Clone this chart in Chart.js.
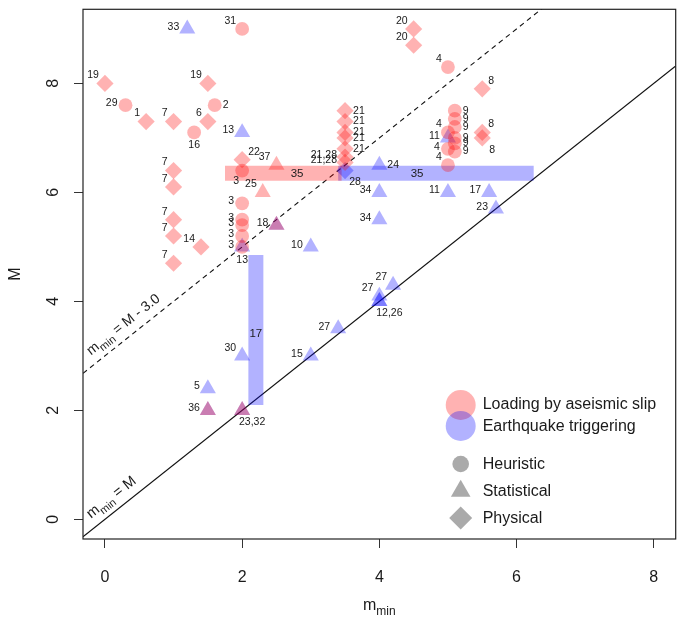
<!DOCTYPE html>
<html>
<head>
<meta charset="utf-8">
<script src="https://cdn.jsdelivr.net/npm/chart.js@4.4.1/dist/chart.umd.min.js"></script>
<style>
  html, body { margin: 0; padding: 0; background: #fff; }
  canvas { display: block; }
</style>
</head>
<body>
<canvas id="chart" width="685" height="626"></canvas>
<script>
// axes
const xTicks = [0, 2, 4, 6, 8];
const yTicks = [0, 2, 4, 6, 8];
const xLim = [-0.32, 8.32];
const yLim = [-0.36, 9.36];

// Loading by aseismic slip - heuristic (circles)
const aseisHeurX = [2.0, 0.3, 1.6, 1.3, 2.0, 2.0, 2.0, 2.0, 2.0, 2.0, 5.0, 5.1, 5.1, 5.1, 5.1, 5.1, 5.1, 5.0, 5.0, 5.0];
const aseisHeurM = [9.0, 7.6, 7.6, 7.1, 6.4, 5.8, 5.5, 5.4, 5.2, 5.0, 8.3, 7.5, 7.35, 7.2, 7.0, 6.9, 6.75, 7.1, 6.8, 6.5];
const aseisHeurRef = ['31', '29', '2', '16', '3', '3', '3', '3', '3', '3', '4', '9', '9', '9', '9', '9', '9', '4', '4', '4'];

// Loading by aseismic slip - statistical (triangles)
const aseisStatX = [2.5, 2.3, 2.5, 1.5, 2.0];
const aseisStatM = [6.5, 6.0, 5.4, 2.0, 2.0];
const aseisStatRef = ['37', '25', '18', '36', '23,32'];

// Loading by aseismic slip - physical (diamonds)
const aseisPhysX = [0.0, 0.6, 1.0, 1.5, 1.5, 2.0, 1.0, 1.0, 1.0, 1.0, 1.4, 1.0, 3.5, 3.5, 3.5, 3.5, 3.5, 3.5, 3.5, 4.5, 4.5, 5.5, 5.5, 5.5];
const aseisPhysM = [8.0, 7.3, 7.3, 8.0, 7.3, 6.6, 6.4, 6.1, 5.5, 5.2, 5.0, 4.7, 7.5, 7.3, 7.1, 7.0, 6.8, 6.65, 6.55, 9.0, 8.7, 7.9, 7.1, 7.0];
const aseisPhysRef = ['19', '1', '7', '19', '6', '22', '7', '7', '7', '7', '14', '7', '21', '21', '21', '21', '21', '21,28', '21,28', '20', '20', '8', '8', '8'];

// Earthquake triggering - statistical (triangles)
const trigStatX = [1.2, 2.0, 4.0, 4.0, 4.0, 5.0, 5.0, 5.6, 5.7, 2.5, 2.0, 3.0, 4.2, 4.0, 4.0, 4.0, 3.4, 2.0, 3.0, 1.5, 1.5, 2.0];
const trigStatM = [9.0, 7.1, 6.5, 6.0, 5.5, 7.0, 6.0, 6.0, 5.7, 5.4, 5.0, 5.0, 4.3, 4.1, 4.0, 4.0, 3.5, 3.0, 3.0, 2.4, 2.0, 2.0];
const trigStatRef = ['33', '13', '24', '34', '34', '11', '11', '17', '23', '', '13', '10', '27', '27', '12,26', '', '27', '30', '15', '5', '', ''];

// Earthquake triggering - physical (diamonds)
const trigPhysX = [3.5];
const trigPhysM = [6.4];
const trigPhysRef = ['28'];

// ranges (study, m_min from-to, M from-to)
const rangeRef = ['35', '35', '17'];
const rangeX0 = [1.75, 3.4, 2.2];
const rangeX1 = [3.45, 6.25, 2.2];
const rangeM0 = [6.35, 6.35, 2.1];
const rangeM1 = [6.35, 6.35, 4.85];
const rangeLabelX = [2.8, 4.55, 2.2];
const rangeLabelM = [6.35, 6.35, 3.4];

// where each number sits around its marker
const aseisHeurSide = ['tl', 'l', 'r', 'b', 'bl', 'l', 'l', 'l', 'l', 'l', 'tl', 'r', 'r', 'r', 'r', 'r', 'r', 'tl', 'l', 'tl'];
const aseisStatSide = ['tl', 'tl', 'l', 'l', 'br'];
const aseisPhysSide = ['tl', 'tl', 'tl', 'tl', 'tl', 'tr', 'tl', 'tl', 'tl', 'tl', 'tl', 'tl', 'r', 'r', 'r', 'r', 'r', 'l', 'l', 'tl', 'tl', 'tr', 'tr', 'br'];
const trigStatSide = ['l', 'l', 'r', 'l', 'l', 'l', 'l', 'l', 'l', 'l', 'b', 'l', 'tl', 'tl', 'br', 'l', 'l', 'tl', 'l', 'l', 'l', 'l'];
const trigPhysSide = ['br'];

const pink = 'rgba(255, 0, 0, 0.3)';
const blue = 'rgba(0, 0, 255, 0.3)';
const FONT = "'Liberation Sans', Arial, Helvetica, sans-serif";
const ink = '#1a1a1a';

function pts(xs, ms) {
    return xs.map((x, i) => ({ x: x, y: ms[i] }));
}

function markers(xs, ms, refs, sides, color, style, radius) {
    return {
        type: 'scatter',
        data: pts(xs, ms),
        refs: refs,
        sides: sides,
        pointStyle: style,
        pointRadius: radius,
        pointHoverRadius: radius,
        backgroundColor: color,
        borderWidth: 0,
        order: 1
    };
}

const datasets = [
    markers(aseisHeurX, aseisHeurM, aseisHeurRef, aseisHeurSide, pink, 'circle', 6.9),
    markers(aseisStatX, aseisStatM, aseisStatRef, aseisStatSide, pink, 'triangle', 9.3),
    markers(aseisPhysX, aseisPhysM, aseisPhysRef, aseisPhysSide, pink, 'rectRot', 8.6),
    markers(trigStatX, trigStatM, trigStatRef, trigStatSide, blue, 'triangle', 9.3),
    markers(trigPhysX, trigPhysM, trigPhysRef, trigPhysSide, blue, 'rectRot', 8.6)
];

// range bars
rangeRef.forEach((r, i) => {
    datasets.push({
        type: 'line',
        data: [{ x: rangeX0[i], y: rangeM0[i] }, { x: rangeX1[i], y: rangeM1[i] }],
        borderColor: i === 0 ? pink : blue,
        borderWidth: 15,
        borderCapStyle: 'butt',
        pointRadius: 0,
        fill: false,
        order: 5
    });
});

// reference lines m_min = M and m_min = M - 3
datasets.push({
    type: 'line',
    data: [{ x: xLim[0], y: xLim[0] }, { x: xLim[1], y: xLim[1] }],
    borderColor: '#111', borderWidth: 1.1, pointRadius: 0, fill: false, order: 8
});
datasets.push({
    type: 'line',
    data: [{ x: xLim[0], y: xLim[0] + 3 }, { x: xLim[1], y: xLim[1] + 3 }],
    borderColor: '#111', borderWidth: 1.1, borderDash: [5, 4], pointRadius: 0, fill: false, order: 8
});

const sideOffset = {
    l: [-8, -2, 'right'],
    r: [8, 0, 'left'],
    tl: [-6, -8, 'right'],
    tr: [6, -8, 'left'],
    b: [0, 13, 'center'],
    bl: [-6, 11, 'center'],
    br: [10, 12, 'center']
};

function drawSubText(ctx, x, y, parts, size, align) {
    // parts: main "m", subscript "min", rest
    ctx.font = size + 'px ' + FONT;
    const w1 = ctx.measureText(parts[0]).width;
    const w3 = ctx.measureText(parts[2]).width;
    ctx.font = Math.round(size * 0.75) + 'px ' + FONT;
    const w2 = ctx.measureText(parts[1]).width;
    let sx = x;
    if (align === 'center') sx = x - (w1 + w2 + w3) / 2;
    ctx.textAlign = 'left';
    ctx.textBaseline = 'alphabetic';
    ctx.font = size + 'px ' + FONT;
    ctx.fillText(parts[0], sx, y);
    ctx.font = Math.round(size * 0.75) + 'px ' + FONT;
    ctx.fillText(parts[1], sx + w1, y + size * 0.3);
    ctx.font = size + 'px ' + FONT;
    ctx.fillText(parts[2], sx + w1 + w2, y);
}

const annotations = {
    id: 'annotations',
    afterDatasetsDraw(chart) {
        const ctx = chart.ctx;
        const xs = chart.scales.x, ys = chart.scales.y;
        const area = chart.chartArea;

        // study numbers next to markers
        ctx.save();
        ctx.fillStyle = ink;
        ctx.font = '10.5px ' + FONT;
        ctx.textBaseline = 'middle';
        chart.data.datasets.forEach((ds, di) => {
            if (!ds.refs) return;
            const meta = chart.getDatasetMeta(di);
            meta.data.forEach((el, i) => {
                const txt = ds.refs[i];
                if (!txt) return;
                const o = sideOffset[ds.sides[i]] || sideOffset.l;
                ctx.textAlign = o[2];
                ctx.fillText(txt, el.x + o[0], el.y + o[1]);
            });
        });
        // range labels
        ctx.font = '11.5px ' + FONT;
        ctx.textAlign = 'center';
        rangeRef.forEach((r, i) => {
            ctx.fillText(r, xs.getPixelForValue(rangeLabelX[i]), ys.getPixelForValue(rangeLabelM[i]));
        });
        ctx.restore();

        // line labels, rotated along the lines
        ctx.save();
        ctx.beginPath();
        ctx.rect(area.left, area.top, area.right - area.left, area.bottom - area.top);
        ctx.clip();
        ctx.fillStyle = ink;
        [[3, ['m', 'min', ' = M - 3.0'], 14], [0, ['m', 'min', ' = M'], 14.5]].forEach(([off, parts, size]) => {
            const x0 = -0.12;
            const px0 = xs.getPixelForValue(x0), py0 = ys.getPixelForValue(x0 + off);
            const px1 = xs.getPixelForValue(x0 + 1), py1 = ys.getPixelForValue(x0 + 1 + off);
            const ang = Math.atan2(py1 - py0, px1 - px0);
            ctx.save();
            ctx.translate(px0, py0);
            ctx.rotate(ang);
            drawSubText(ctx, 0, -9, parts, size, 'left');
            ctx.restore();
        });
        ctx.restore();
    },
    afterDraw(chart) {
        const ctx = chart.ctx;
        const area = chart.chartArea;
        const ys = chart.scales.y;

        // frame
        ctx.save();
        ctx.strokeStyle = '#222';
        ctx.lineWidth = 1.2;
        ctx.strokeRect(area.left, area.top, area.right - area.left, area.bottom - area.top);

        // rotated y tick labels
        ctx.fillStyle = ink;
        ctx.font = '16px ' + FONT;
        ctx.textAlign = 'center';
        ctx.textBaseline = 'middle';
        yTicks.forEach(v => {
            ctx.save();
            ctx.translate(area.left - 29, ys.getPixelForValue(v));
            ctx.rotate(-Math.PI / 2);
            ctx.fillText(String(v), 0, 0);
            ctx.restore();
        });
        // axis titles
        ctx.save();
        ctx.translate(area.left - 67, (area.top + area.bottom) / 2);
        ctx.rotate(-Math.PI / 2);
        ctx.fillText('M', 0, 0);
        ctx.restore();
        drawSubText(ctx, (area.left + area.right) / 2, 610, ['m', 'min', ''], 16, 'center');

        // legend
        const lx = area.right - 215;
        ctx.fillStyle = pink;
        ctx.beginPath(); ctx.arc(lx, 405, 15, 0, Math.PI * 2); ctx.fill();
        ctx.fillStyle = blue;
        ctx.beginPath(); ctx.arc(lx, 426, 15, 0, Math.PI * 2); ctx.fill();
        ctx.fillStyle = '#aaaaaa';
        ctx.beginPath(); ctx.arc(lx, 464, 8.3, 0, Math.PI * 2); ctx.fill();
        ctx.beginPath();
        ctx.moveTo(lx, 491 - 11.3);
        ctx.lineTo(lx + 11.3 * 0.866, 491 + 11.3 * 0.5);
        ctx.lineTo(lx - 11.3 * 0.866, 491 + 11.3 * 0.5);
        ctx.closePath(); ctx.fill();
        ctx.beginPath();
        ctx.moveTo(lx, 518 - 11.5); ctx.lineTo(lx + 11.5, 518);
        ctx.lineTo(lx, 518 + 11.5); ctx.lineTo(lx - 11.5, 518);
        ctx.closePath(); ctx.fill();

        ctx.fillStyle = ink;
        ctx.font = '16px ' + FONT;
        ctx.textAlign = 'left';
        ctx.textBaseline = 'middle';
        const tx = lx + 22;
        ctx.fillText('Loading by aseismic slip', tx, 405);
        ctx.fillText('Earthquake triggering', tx, 427);
        ctx.fillText('Heuristic', tx, 465);
        ctx.fillText('Statistical', tx, 492);
        ctx.fillText('Physical', tx, 519);
        ctx.restore();
    }
};

new Chart(document.getElementById('chart').getContext('2d'), {
    data: { datasets: datasets },
    options: {
        responsive: false,
        animation: false,
        devicePixelRatio: 1,
        events: [],
        layout: { padding: { top: 4, right: 4, left: 0, bottom: 0 } },
        plugins: { legend: { display: false }, tooltip: { enabled: false } },
        scales: {
            x: {
                type: 'linear',
                min: xLim[0],
                max: xLim[1],
                afterBuildTicks: s => { s.ticks = xTicks.map(v => ({ value: v })); },
                afterFit: s => { s.height = 87; },
                grid: { drawOnChartArea: false, tickLength: 9, color: '#333', lineWidth: 1 },
                border: { display: false },
                ticks: { font: { family: FONT, size: 16 }, color: ink, padding: 20, maxRotation: 0 }
            },
            y: {
                type: 'linear',
                min: yLim[0],
                max: yLim[1],
                afterBuildTicks: s => { s.ticks = yTicks.map(v => ({ value: v })); },
                afterFit: s => { s.width = 83; },
                grid: { drawOnChartArea: false, tickLength: 9, color: '#333', lineWidth: 1 },
                border: { display: false },
                ticks: { display: false }
            }
        }
    },
    plugins: [annotations]
});
</script>
</body>
</html>
